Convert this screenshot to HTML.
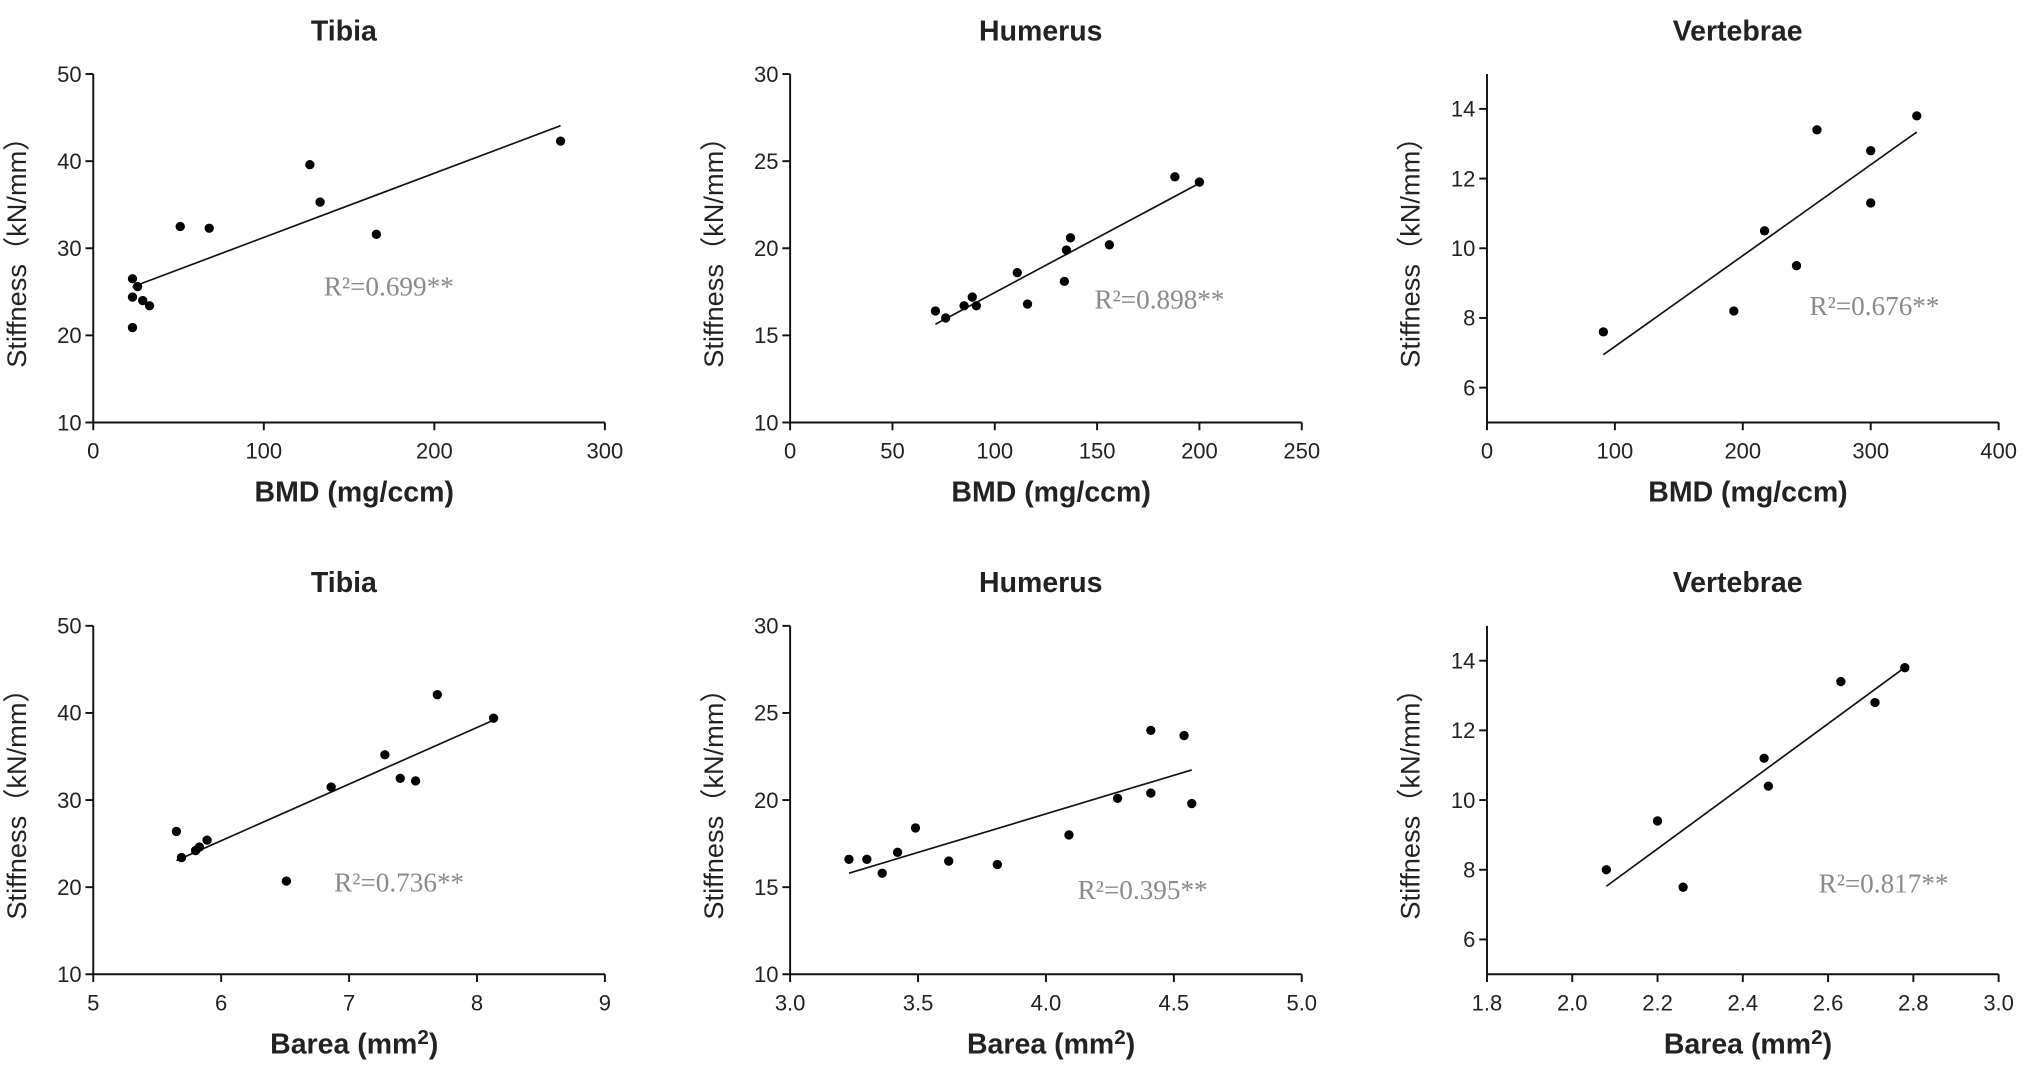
<!DOCTYPE html>
<html><head><meta charset="utf-8"><style>
html,body{margin:0;padding:0;background:#fff;}
svg{display:block;}
text{font-family:"Liberation Sans","Noto Sans CJK SC",sans-serif;fill:#222;}
</style></head><body>
<svg id="chart" width="2031" height="1082" viewBox="0 0 1568 835" xmlns="http://www.w3.org/2000/svg"></svg>
<script>
const titles = ["Tibia","Humerus","Vertebrae","Tibia","Humerus","Vertebrae"];
const xLabels = ["BMD (mg/ccm)","BMD (mg/ccm)","BMD (mg/ccm)","Barea (mm","Barea (mm","Barea (mm"];
const r2Labels = ["R²=0.699**","R²=0.898**","R²=0.676**","R²=0.736**","R²=0.395**","R²=0.817**"];
const xDomains = [[0,300],[0,250],[0,400],[5,9],[3,5],[1.8,3.0]];
const yDomains = [[10,50],[10,30],[5,15],[10,50],[10,30],[5,15]];
const xTicks = [[0,100,200,300],[0,50,100,150,200,250],[0,100,200,300,400],[5,6,7,8,9],[3.0,3.5,4.0,4.5,5.0],[1.8,2.0,2.2,2.4,2.6,2.8,3.0]];
const yTicks = [[10,20,30,40,50],[10,15,20,25,30],[6,8,10,12,14],[10,20,30,40,50],[10,15,20,25,30],[6,8,10,12,14]];
const xDecimals = [0,0,0,0,1,1];
const p1x = [23,26,23,29,33,23,51,68,127,133,166,274];
const p1y = [26.5,25.6,24.4,24,23.4,20.9,32.5,32.3,39.6,35.3,31.6,42.3];
const p2x = [71,76,85,89,91,111,116,134,135,137,156,188,200];
const p2y = [16.4,16.0,16.7,17.2,16.7,18.6,16.8,18.1,19.9,20.6,20.2,24.1,23.8];
const p3x = [91,193,217,242,258,300,300,336];
const p3y = [7.6,8.2,10.5,9.5,13.4,12.8,11.3,13.8];
const p4x = [5.65,5.69,5.8,5.83,5.89,6.51,6.86,7.28,7.4,7.52,7.69,8.13];
const p4y = [26.4,23.4,24.2,24.6,25.4,20.7,31.5,35.2,32.5,32.2,42.1,39.4];
const p5x = [3.23,3.3,3.36,3.42,3.49,3.62,3.81,4.09,4.28,4.41,4.41,4.54,4.57];
const p5y = [16.6,16.6,15.8,17.0,18.4,16.5,16.3,18.0,20.1,24.0,20.4,23.7,19.8];
const p6x = [2.08,2.2,2.26,2.45,2.46,2.63,2.71,2.78];
const p6y = [8.0,9.4,7.5,11.2,10.4,13.4,12.8,13.8];
const xsAll = [p1x,p2x,p3x,p4x,p5x,p6x];
const ysAll = [p1y,p2y,p3y,p4y,p5y,p6y];

const NS="http://www.w3.org/2000/svg";
const svg=document.getElementById('chart');
function mk(tag,attrs,parent){const e=document.createElementNS(NS,tag);for(const k in attrs)e.setAttribute(k,attrs[k]);(parent||svg).appendChild(e);return e;}
const lefts=[72,610,1148], tops=[57,483], W=395, H=269;
const r2Pos=[[250,228],[845,238],[1397,243],[258,688],[832,694],[1404,689]];
for(let i=0;i<6;i++){
  const L=lefts[i%3], T=tops[Math.floor(i/3)], B=T+H, R=L+W;
  const g=mk('g',{});
  
  
  const xd=xDomains[i], yd=yDomains[i];
  const sx=v=>L+(v-xd[0])/(xd[1]-xd[0])*W;
  const sy=v=>B-(v-yd[0])/(yd[1]-yd[0])*H;
  const t=mk('text',{x:L+W/2-4,y:T-26,'text-anchor':'middle','font-size':22,'font-weight':'bold'},g);
  t.textContent=titles[i];
  
  
  const xa=mk('line',{x1:L,y1:B,x2:R,y2:B,stroke:'#111','stroke-width':1.5},g);
  
  
  const ya=mk('line',{x1:L,y1:T,x2:L,y2:B,stroke:'#111','stroke-width':1.5},g);
  
  
  xTicks[i].forEach(v=>{const x=sx(v);mk('line',{x1:x,y1:B,x2:x,y2:B+6,stroke:'#111','stroke-width':1.5},g);
    const tx=mk('text',{x:x,y:B+28,'text-anchor':'middle','font-size':17},g);tx.textContent=v.toFixed(xDecimals[i]);
    
    });
  yTicks[i].forEach(v=>{const y=sy(v);mk('line',{x1:L-6,y1:y,x2:L,y2:y,stroke:'#111','stroke-width':1.5},g);
    const ty=mk('text',{x:L-9,y:y+6,'text-anchor':'end','font-size':17},g);ty.textContent=v;
    
    });
  const xl=mk('text',{x:L+W/2+4,y:B+61,'text-anchor':'middle','font-size':22,'font-weight':'bold'},g);
  if(i<3){xl.textContent=xLabels[i];}else{xl.textContent=xLabels[i];const s=mk('tspan',{dy:-7,'font-size':16},xl);s.textContent='2';const s2=mk('tspan',{dy:7},xl);s2.textContent=')';}
  
  
  const cy=T+H/2-2, cx=L-52;
  const yl=mk('text',{x:cx,y:cy,'text-anchor':'middle','font-size':21,transform:`rotate(-90 ${cx} ${cy})`},g);
  yl.textContent='Stiffness（kN/mm）';
  
  
  const xs=xsAll[i], ys=ysAll[i], n=xs.length;
  const mx=xs.reduce((a,b)=>a+b)/n, my=ys.reduce((a,b)=>a+b)/n;
  let sxy=0,sxx=0;for(let k=0;k<n;k++){sxy+=(xs[k]-mx)*(ys[k]-my);sxx+=(xs[k]-mx)**2;}
  const b=sxy/sxx, a=my-b*mx, x0=Math.min(...xs), x1=Math.max(...xs);
  const fl=mk('line',{x1:sx(x0),y1:sy(a+b*x0),x2:sx(x1),y2:sy(a+b*x1),stroke:'#111','stroke-width':1.3},g);
  
  
  for(let k=0;k<n;k++){const c=mk('circle',{cx:sx(xs[k]),cy:sy(ys[k]),r:3.6,fill:'#000'},g);
    
    }
  const r=mk('text',{x:r2Pos[i][0],y:r2Pos[i][1],'font-size':21},g);
  r.setAttribute('style','fill:#8a8a8a;font-family:"Liberation Serif",serif');
  r.textContent=r2Labels[i];
  
  
}
</script>
</body></html>
